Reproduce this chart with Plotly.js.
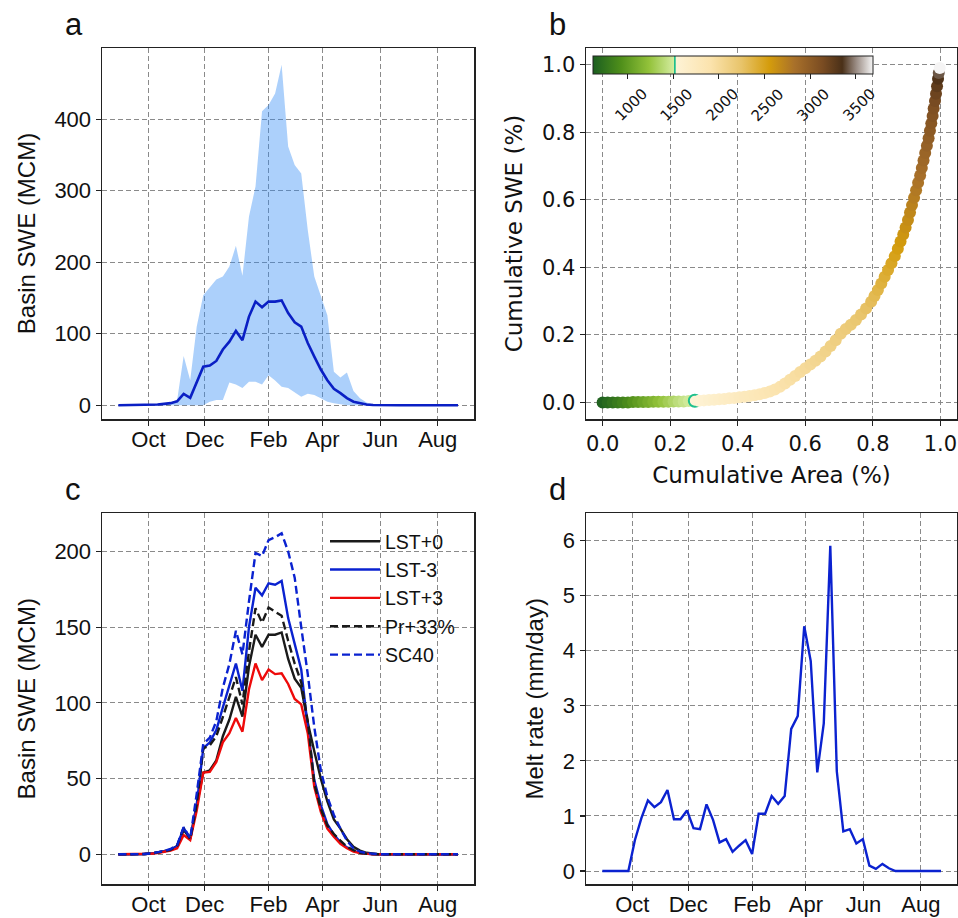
<!DOCTYPE html>
<html>
<head>
<meta charset="utf-8">
<script src="https://cdn.plot.ly/plotly-3.0.1.min.js"></script>
<style>html,body{margin:0;padding:0;background:#fff;}#chart{width:958px;height:918px;}</style>
</head>
<body>
<div id="chart"></div>
<script>
// ---------- Data ----------
const monthLabels = ['Oct','Dec','Feb','Apr','Jun','Aug'];
const monthTickPos = [4.6, 13.2, 23.0, 31.25, 40.1, 48.9];

// Panel a: basin SWE (MCM), weekly
const sweMean = [0,0,0,0,0.2,0.5,1,2,3,5.5,16,10.5,32,54,55.5,62,78,89,104,91,124,145,137,145,145,146.5,129,116,110,87,68,50,35,23,17,10,5,2.5,1,0.3,0,0,0,0,0,0,0,0,0,0,0,0,0];
const sweUpper = [0,0,0,0,0.3,0.8,1.5,3,4,7,69,35,110,154,165,176,180,194,223,181,264,306,411,420,436,476,362,336,324,245,180,152,126,47,39,46,20,10,4,1,0,0,0,0,0,0,0,0,0,0,0,0,0];
const sweLower = [0,0,0,0,0,0,0,0,0,0,0,0,0,0,5,7.5,7.5,32,29,24,33,33,29,42,34.5,26,24,18,12,16,14.5,10,5,3,1.5,0,0,0,0,0,0,0,0,0,0,0,0,0,0,0,0,0,0];

// Panel b: cumulative area vs cumulative SWE, coloured by elevation (m)
const cumArea = [0,0.015,0.03,0.045,0.06,0.075,0.09,0.105,0.12,0.135,0.15,0.165,0.18,0.195,0.21,0.225,0.24,0.255,0.273,
  0.285,0.30,0.315,0.33,0.345,0.36,0.375,0.39,0.405,0.42,0.435,0.45,0.465,0.48,0.495,0.51,0.525,0.54,0.555,0.57,0.585,0.60,0.615,0.63,0.645,0.66,0.675,0.69,0.705,0.72,0.735,0.75,0.765,0.78,0.795,
  0.805,0.815,0.825,0.835,0.845,0.855,0.865,0.874,0.882,0.89,0.897,0.904,0.91,0.916,0.922,0.928,0.934,0.94,0.945,0.95,0.955,0.96,0.965,0.969,0.973,0.977,0.98,0.984,0.987,0.99,0.993,0.995,0.998];
const cumSWE = [0,0,0,0,0,0,0.001,0.001,0.001,0.001,0.002,0.002,0.002,0.002,0.003,0.003,0.003,0.004,0.005,
  0.005,0.006,0.007,0.008,0.009,0.01,0.012,0.013,0.015,0.017,0.019,0.021,0.024,0.028,0.032,0.038,0.046,0.056,0.067,0.078,0.09,0.101,0.112,0.123,0.136,0.151,0.167,0.184,0.203,0.217,0.23,0.244,0.26,0.278,0.298,
  0.315,0.333,0.352,0.372,0.392,0.412,0.433,0.455,0.476,0.497,0.518,0.54,0.562,0.584,0.606,0.628,0.65,0.672,0.694,0.716,0.738,0.76,0.782,0.804,0.826,0.848,0.87,0.892,0.914,0.936,0.958,0.975,0.99];
const elevation = [650,700,750,800,850,900,960,1010,1060,1110,1160,1210,1260,1310,1360,1410,1450,1490,1530,
  1555,1580,1605,1630,1655,1680,1700,1720,1740,1760,1780,1800,1820,1840,1860,1885,1910,1930,1950,1970,1990,2010,2030,2050,2070,2090,2110,2130,2150,2170,2190,2210,2240,2270,2300,
  2330,2360,2390,2420,2450,2480,2510,2540,2570,2600,2630,2660,2690,2720,2750,2780,2810,2840,2870,2900,2930,2960,2990,3020,3050,3080,3110,3150,3200,3260,3330,3420,3690];
const elevThreshold = 1530;
const elevTicks = [1000,1500,2000,2500,3000,3500];
const elevMin = 623, elevMax = 3693;

// Panel c: scenarios
const lstP0 = sweMean;
const lstM3 = [0,0,0,0,0.2,0.5,1,2,3,5.5,17.5,10,33,70,74,82,97,111,126,108,150,176,171,179,178,180.5,156,139,122,84,49,32.5,20,13,8,4.6,2.4,1,0.5,0,0,0,0,0,0,0,0,0,0,0,0,0,0];
const lstP3 = [0,0,0,0,0.2,0.4,0.8,1.5,2.5,4,12.7,9.4,29,54,54.4,61,74,80,90,81,109,126,115,122,119,119.5,112.5,102.6,99,80,44.5,28,17,11.6,7,4,1.8,0.8,0.3,0,0,0,0,0,0,0,0,0,0,0,0,0,0];
const prP33 = [0,0,0,0,0.2,0.5,1,2,3,5.5,17.5,10,33,70,72,78,90.6,104,117,99,134,162.5,153,163,160,157.5,141,126,113.6,88,46.7,30,19,13.4,9,5,2.8,1,0.4,0,0,0,0,0,0,0,0,0,0,0,0,0,0];
const sc40 = [0,0,0,0,0.2,0.6,1.2,2.2,3.5,6,18,10.5,40,73,77,88,110,125.7,147.6,132,167,199,197,207.5,209.4,212,200,182.7,150,119,84,55.5,38,26,17,9,4,1.8,0.8,0.2,0,0,0,0,0,0,0,0,0,0,0,0,0];

// Panel d: melt rate (mm/day)
const meltRate = [0,0,0,0,0,0.56,0.96,1.28,1.16,1.25,1.47,0.94,0.94,1.10,0.78,0.76,1.21,0.93,0.52,0.58,0.35,0.46,0.56,0.31,1.04,1.04,1.36,1.22,1.36,2.58,2.81,4.44,3.81,1.79,2.68,5.90,1.81,0.72,0.76,0.50,0.58,0.10,0.04,0.13,0.05,0,0,0,0,0,0,0,0];

// ---------- Build ----------
const idx = a => a.map((_, i) => i);
const W = 958, H = 918;
const px = v => v / W, py = v => 1 - v / H;

const arial = 'Liberation Sans, Arial, sans-serif';
const dejavu = 'DejaVu Sans, sans-serif';

const colorscale = [
  [0, '#1b5e20'], [0.1, '#4f8f1a'], [0.2, '#93c23a'], [0.289, '#d4eca0'],
  [0.2895, '#1fc08c'], [0.2945, '#1fc08c'], [0.295, '#fef3d6'],
  [0.42, '#fbe3ad'], [0.53, '#e8c46a'], [0.63, '#d49c0c'], [0.72, '#a8702a'],
  [0.82, '#7a4c22'], [0.89, '#4a3018'], [0.94, '#9a8c84'], [1, '#f6f6f6']
];

// colour bar geometry (pixels)
const cbLeft = 593.3, cbTop = 55.7, cbLen = 280, cbThick = 18;

const traces = [
  {x: idx(sweLower), y: sweLower, xaxis: 'x', yaxis: 'y', mode: 'lines', line: {width: 0, color: 'rgba(0,0,0,0)'}, showlegend: false, hoverinfo: 'skip'},
  {x: idx(sweUpper), y: sweUpper, xaxis: 'x', yaxis: 'y', mode: 'lines', fill: 'tonexty', fillcolor: 'rgba(48,138,245,0.4)', line: {width: 0, color: 'rgba(0,0,0,0)'}, showlegend: false, hoverinfo: 'skip'},
  {x: idx(sweMean), y: sweMean, xaxis: 'x', yaxis: 'y', mode: 'lines', line: {width: 2.6, color: '#0a1fc4'}, showlegend: false},

  {x: cumArea, y: cumSWE, xaxis: 'x2', yaxis: 'y2', mode: 'markers', showlegend: false,
   marker: {size: 12, color: elevation, colorscale: colorscale, cmin: elevMin, cmax: elevMax, opacity: 1,
     line: {width: elevation.map(e => e === elevThreshold ? 2 : 0), color: elevation.map(e => e === elevThreshold ? '#1fc08c' : 'rgba(0,0,0,0)')},
     showscale: true,
     colorbar: {orientation: 'h', x: px(cbLeft), xanchor: 'left', y: py(cbTop), yanchor: 'top',
       len: cbLen, lenmode: 'pixels', thickness: cbThick, thicknessmode: 'pixels', xpad: 0, ypad: 0,
       outlinewidth: 1, outlinecolor: '#222', tickvals: elevTicks, ticktext: elevTicks.map(() => ''),
       ticks: 'outside', ticklen: 5, tickcolor: '#222',
       tickfont: {family: dejavu, size: 15, color: '#111'}}}},

  {x: idx(lstP0), y: lstP0, xaxis: 'x3', yaxis: 'y3', mode: 'lines', name: 'LST+0', line: {width: 2.4, color: '#1a1a1a'}},
  {x: idx(lstM3), y: lstM3, xaxis: 'x3', yaxis: 'y3', mode: 'lines', name: 'LST-3', line: {width: 2.4, color: '#0a22d0'}},
  {x: idx(lstP3), y: lstP3, xaxis: 'x3', yaxis: 'y3', mode: 'lines', name: 'LST+3', line: {width: 2.4, color: '#ee0a0a'}},
  {x: idx(prP33), y: prP33, xaxis: 'x3', yaxis: 'y3', mode: 'lines', name: 'Pr+33%', line: {width: 2.4, color: '#1a1a1a', dash: '8px,4px'}},
  {x: idx(sc40), y: sc40, xaxis: 'x3', yaxis: 'y3', mode: 'lines', name: 'SC40', line: {width: 2.4, color: '#0a22d0', dash: '8px,4px'}},

  {x: idx(meltRate), y: meltRate, xaxis: 'x4', yaxis: 'y4', mode: 'lines', line: {width: 2.4, color: '#0b22d0'}, showlegend: false}
];

function ax(extra, fam, size) {
  return Object.assign({
    showline: true, mirror: true, linecolor: '#222', linewidth: 1.2,
    ticks: 'outside', ticklen: 5, tickwidth: 1.2, tickcolor: '#222',
    showgrid: true, gridcolor: '#8a8a8a', gridwidth: 1, griddash: '5px,3px',
    zeroline: false, tickfont: {family: fam, size: size, color: '#111'}
  }, extra);
}
const monthAxis = (dom, anchor) => ax({domain: dom, anchor: anchor, range: [-2.55, 54.5], tickmode: 'array', tickvals: monthTickPos, ticktext: monthLabels, ticklabelstandoff: -5}, arial, 22);

const domL = [px(101.7), px(474.3)], domR = [px(585.7), px(957.3)];
const domT = [py(419.3), py(47.7)], domB = [py(884.3), py(513.3)];

// colour-bar tick labels, placed through the colour bar's value-to-pixel mapping
const cbLabels = elevTicks.map(v => ({
  text: String(v), textangle: -45, showarrow: false, xref: 'paper', yref: 'paper',
  x: px(cbLeft + (v - elevMin) / (elevMax - elevMin) * cbLen + 3), y: py(cbTop + cbThick + 31),
  xanchor: 'center', yanchor: 'middle', font: {family: dejavu, size: 15, color: '#111'}
}));

const layout = {
  width: W, height: H, margin: {l: 0, r: 0, t: 0, b: 0}, paper_bgcolor: '#fff', plot_bgcolor: '#fff',
  showlegend: true,
  xaxis: monthAxis(domL, 'y'),
  yaxis: ax({domain: domT, anchor: 'x', range: [-19.6, 500], tickvals: [0,100,200,300,400],
    title: {text: 'Basin SWE (MCM)', font: {family: arial, size: 24, color: '#111'}, standoff: 12}}, arial, 22),
  xaxis2: ax({domain: domR, anchor: 'y2', range: [-0.05, 1.05], tickvals: [0,0.2,0.4,0.6,0.8,1.0], ticktext: ['0.0','0.2','0.4','0.6','0.8','1.0'],
    title: {text: 'Cumulative Area (%)', font: {family: dejavu, size: 23, color: '#111'}, standoff: 12}}, dejavu, 21),
  yaxis2: ax({domain: domT, anchor: 'x2', range: [-0.05, 1.05], tickvals: [0,0.2,0.4,0.6,0.8,1.0], ticktext: ['0.0','0.2','0.4','0.6','0.8','1.0'],
    title: {text: 'Cumulative SWE (%)', font: {family: dejavu, size: 23, color: '#111'}, standoff: 12}}, dejavu, 21),
  xaxis3: monthAxis(domL, 'y3'),
  yaxis3: ax({domain: domB, anchor: 'x3', range: [-19.8, 225.2], tickvals: [0,50,100,150,200],
    title: {text: 'Basin SWE (MCM)', font: {family: arial, size: 24, color: '#111'}, standoff: 12}}, arial, 22),
  xaxis4: monthAxis(domR, 'y4'),
  yaxis4: ax({domain: domB, anchor: 'x4', range: [-0.24, 6.49], tickvals: [0,1,2,3,4,5,6],
    title: {text: 'Melt rate (mm/day)', font: {family: arial, size: 24, color: '#111'}, standoff: 12}}, arial, 22),
  legend: {x: px(325), xanchor: 'left', y: py(522), yanchor: 'top', bgcolor: 'rgba(0,0,0,0)', borderwidth: 0,
    traceorder: 'normal', itemwidth: 50,
    font: {family: arial, size: 19.5, color: '#111'}, tracegroupgap: 0},
  annotations: cbLabels.concat([
    {text: 'a', x: px(74), y: py(25), xref: 'paper', yref: 'paper', showarrow: false, xanchor: 'center', yanchor: 'middle', font: {family: arial, size: 31, color: '#111'}},
    {text: 'b', x: px(557), y: py(24), xref: 'paper', yref: 'paper', showarrow: false, xanchor: 'center', yanchor: 'middle', font: {family: arial, size: 31, color: '#111'}},
    {text: 'c', x: px(73), y: py(490), xref: 'paper', yref: 'paper', showarrow: false, xanchor: 'center', yanchor: 'middle', font: {family: arial, size: 31, color: '#111'}},
    {text: 'd', x: px(557), y: py(489), xref: 'paper', yref: 'paper', showarrow: false, xanchor: 'center', yanchor: 'middle', font: {family: arial, size: 31, color: '#111'}}
  ])
};

Plotly.newPlot('chart', traces, layout, {displayModeBar: false, staticPlot: true});
</script>
</body>
</html>
